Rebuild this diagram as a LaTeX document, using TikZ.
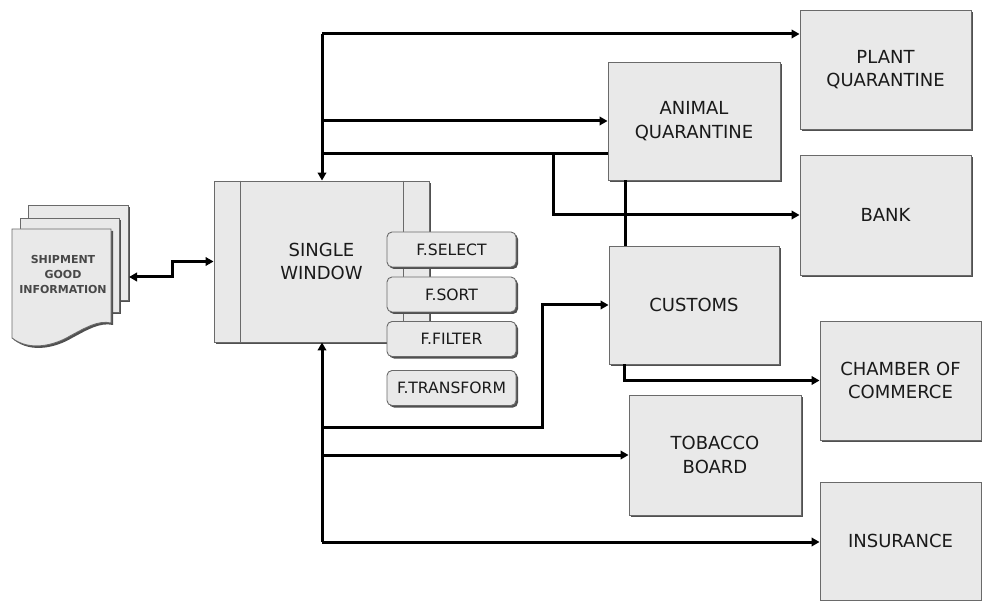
\documentclass[tikz,border=0pt]{standalone}
\usepackage{fontspec}
\setmainfont{DejaVu Sans}
\usetikzlibrary{arrows.meta,shadows}
\definecolor{boxfill}{HTML}{E9E9E9}
\definecolor{boxline}{HTML}{6A6A6A}
\definecolor{shade}{HTML}{505050}
\definecolor{txt}{HTML}{1A1A1A}
\tikzset{
  shad/.style={drop shadow={shadow xshift=2pt,shadow yshift=-2pt,fill=shade,opacity=1}},
  bigbox/.style={draw=boxline,fill=boxfill,line width=0.9pt,shad,align=center,text=txt,
    font=\fontsize{18}{23.5}\selectfont,inner sep=0pt},
  fbox/.style={draw=boxline,fill=boxfill,line width=0.9pt,shad,rounded corners=5pt,
    minimum width=129pt,minimum height=35pt,text=txt,font=\fontsize{15.6}{17}\selectfont,inner sep=0pt},
  page/.style={draw=boxline,fill=boxfill,line width=0.9pt,shad},
  conn/.style={draw=black,line width=3pt},
  arr/.style={conn,-{Triangle[length=8pt,width=8.5pt]}},
  darr/.style={conn,{Triangle[length=8pt,width=8.5pt]}-{Triangle[length=8pt,width=8.5pt]}}
}
\begin{document}
\begin{tikzpicture}[x=1pt,y=-1pt]
\useasboundingbox (0,0) rectangle (982,601);
% document stack
\path[page] (28,205) rectangle (128,300);
\path[page] (20,218) rectangle (119,312);
\path[page] (12,229) -- (111,229) -- (111,323)
   .. controls (98,320) and (85,328) .. (70,336)
   .. controls (55,345) and (30,352) .. (12,338) -- cycle;
\node[text=txt!80!white,font=\bfseries\fontsize{11}{15}\selectfont,align=center] (doc) at (63,274) {SHIPMENT\\GOOD\\INFORMATION};
\coordinate (docport) at (129,277);
% single window
\node[bigbox,minimum width=215pt,minimum height=161pt] (sw) at (321.5,261.5) {SINGLE\\WINDOW};
\draw[boxline,line width=0.9pt] ([xshift=27pt]sw.north west) -- ([xshift=27pt]sw.south west);
\draw[boxline,line width=0.9pt] ([xshift=-26pt]sw.north east) -- ([xshift=-26pt]sw.south east);
\node[fbox] (fsel) at (451.5,249.5) {F.SELECT};
\node[fbox] (fsort) at (451.5,294.5) {F.SORT};
\node[fbox] (ffil) at (451.5,339) {F.FILTER};
\node[fbox] (ftr) at (451.5,388) {F.TRANSFORM};
% agencies
\node[bigbox,minimum width=171pt,minimum height=119pt] (plant) at (885.5,69.5) {PLANT\\QUARANTINE};
\node[bigbox,minimum width=172pt,minimum height=118pt] (animal) at (694,121) {ANIMAL\\QUARANTINE};
\node[bigbox,minimum width=171pt,minimum height=120pt] (bank) at (885.5,215) {BANK};
\node[bigbox,minimum width=170pt,minimum height=118pt] (customs) at (694,305) {CUSTOMS};
\node[bigbox,minimum width=161pt,minimum height=119pt] (chamber) at (900.5,380.5) {CHAMBER OF\\COMMERCE};
\node[bigbox,minimum width=172pt,minimum height=120pt] (tobacco) at (715,455) {TOBACCO\\BOARD};
\node[bigbox,minimum width=161pt,minimum height=118pt] (insur) at (900.5,541) {INSURANCE};
% bus coordinates
\coordinate (top) at (322,34);
\coordinate (bot) at (322,542);
\coordinate (b121) at (322,121);
\coordinate (b154) at (322,154);
\coordinate (k154) at (553,154);
\coordinate (b427) at (322,427);
\coordinate (k427) at (542,427);
\coordinate (b455) at (322,455);
% connectors
\draw[darr] (docport) -- (172,277) |- (sw.west);
\draw[arr] (top) -- (top |- sw.north);
\draw[arr] (bot) -- (bot |- sw.south);
\draw[arr] (top) -- (plant.west |- top);
\draw[arr] (b121) -- (animal.west);
\draw[conn] (b154) -- (animal.west |- b154);
\draw[arr] (k154) |- (bank.west);
\draw[conn] (animal.south -| 625,0) -- (customs.north -| 625,0);
\draw[arr] (b427) -- (k427) |- (customs.west);
\draw[arr] (customs.south -| 624,0) |- (chamber.west);
\draw[arr] (b455) -- (tobacco.west);
\draw[arr] (bot) -- (insur.west |- bot);
\end{tikzpicture}
\end{document}
